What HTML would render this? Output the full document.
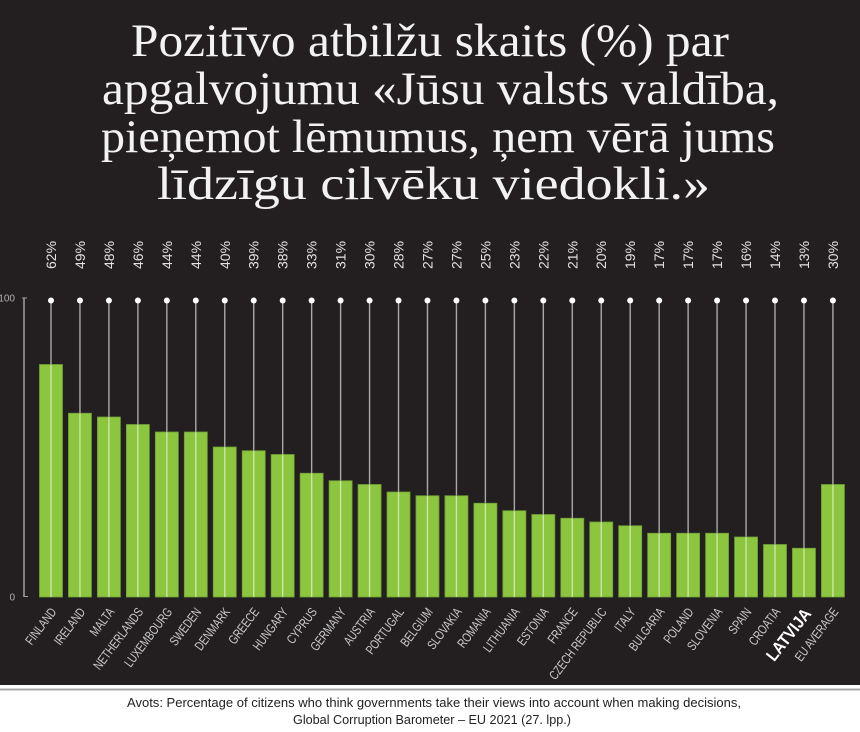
<!DOCTYPE html>
<html>
<head>
<meta charset="utf-8">
<style>
html,body{margin:0;padding:0;background:#fff;}
body{width:860px;height:732px;overflow:hidden;}
svg{display:block;}
</style>
</head>
<body>
<svg width="860" height="732" viewBox="0 0 860 732" xmlns="http://www.w3.org/2000/svg">
  <rect x="0" y="0" width="860" height="732" fill="#ffffff"/>
  <rect x="0" y="0" width="860" height="685" fill="#231f20"/>
  <rect x="0" y="688.5" width="860" height="2" fill="#a8a8a8"/>

  <!-- Title -->
  <g font-family="'Liberation Serif', serif" font-size="47" fill="#f2f2f2">
    <text x="131" y="56" textLength="598" lengthAdjust="spacingAndGlyphs">Pozitīvo atbilžu skaits (%) par</text>
    <text x="102" y="104" textLength="677" lengthAdjust="spacingAndGlyphs">apgalvojumu «Jūsu valsts valdība,</text>
    <text x="101" y="152" textLength="674" lengthAdjust="spacingAndGlyphs">pieņemot lēmumus, ņem vērā jums</text>
    <text x="157" y="199" textLength="553" lengthAdjust="spacingAndGlyphs">līdzīgu cilvēku viedokli.»</text>
  </g>

  <!-- Axis -->
  <line x1="24" y1="298" x2="24" y2="597" stroke="#a0a0a0" stroke-width="1.5"/>
  <line x1="22" y1="298" x2="27" y2="298" stroke="#a0a0a0" stroke-width="1"/>
  <line x1="24" y1="596.5" x2="28" y2="596.5" stroke="#a0a0a0" stroke-width="1"/>
  <text x="15" y="301.5" font-family="'Liberation Sans', sans-serif" font-size="10" fill="#b0b0b0" text-anchor="end">100</text>
  <text x="15" y="600.5" font-family="'Liberation Sans', sans-serif" font-size="10" fill="#b0b0b0" text-anchor="end">0</text>

  <g id="chart"></g>

  <!-- Footer -->
  <g font-family="'Liberation Sans', sans-serif" font-size="12.5" fill="#222">
    <text x="127" y="707" textLength="614" lengthAdjust="spacingAndGlyphs">Avots: Percentage of citizens who think governments take their views into account when making decisions,</text>
    <text x="293" y="724" textLength="278" lengthAdjust="spacingAndGlyphs">Global Corruption Barometer – EU 2021 (27. lpp.)</text>
  </g>
</svg>
<script>
(function(){
  var names=["FINLAND","IRELAND","MALTA","NETHERLANDS","LUXEMBOURG","SWEDEN","DENMARK","GREECE","HUNGARY","CYPRUS","GERMANY","AUSTRIA","PORTUGAL","BELGIUM","SLOVAKIA","ROMANIA","LITHUANIA","ESTONIA","FRANCE","CZECH REPUBLIC","ITALY","BULGARIA","POLAND","SLOVENIA","SPAIN","CROATIA","LATVIJA","EU AVERAGE"];
  var vals=[62,49,48,46,44,44,40,39,38,33,31,30,28,27,27,25,23,22,21,20,19,17,17,17,16,14,13,30];
  var ns="http://www.w3.org/2000/svg";
  var g=document.getElementById("chart");
  function el(t,a,txt){var e=document.createElementNS(ns,t);for(var k in a)e.setAttribute(k,a[k]);if(txt!==undefined)e.textContent=txt;g.appendChild(e);return e;}
  var bottom=597, scale=3.75;
  for(var i=0;i<names.length;i++){
    var cx=51+i*28.96;
    var top=bottom-vals[i]*scale;
    el("line",{x1:cx,y1:300.5,x2:cx,y2:bottom,stroke:"#a9a9a9","stroke-width":1.4});
    el("rect",{x:(cx-11.5).toFixed(2),y:top.toFixed(2),width:23,height:(bottom-top).toFixed(2),fill:"#8cc63f",stroke:"#6f9e35","stroke-width":0.8});
    el("line",{x1:cx,y1:top,x2:cx,y2:bottom,stroke:"#ffffff","stroke-opacity":0.55,"stroke-width":1.4});
    el("circle",{cx:cx,cy:300.5,r:3,fill:"#ffffff"});
    el("text",{transform:"translate("+(cx+5).toFixed(2)+",269) rotate(-90)","font-family":"'Liberation Sans', sans-serif","font-size":14,fill:"#e2e2e2"},vals[i]+"%");
    if(names[i]==="LATVIJA"){
      el("text",{transform:"translate("+(cx+8).toFixed(2)+",614) rotate(-52) scale(0.88,1)","font-family":"'Liberation Sans', sans-serif","font-size":17,"font-weight":"bold",fill:"#ffffff","text-anchor":"end"},names[i]);
    } else {
      el("text",{transform:"translate("+(cx+6).toFixed(2)+",612) rotate(-53) scale(0.76,1)","font-family":"'Liberation Sans', sans-serif","font-size":13,fill:"#c8c8c8","text-anchor":"end"},names[i]);
    }
  }
})();
</script>
</body>
</html>
